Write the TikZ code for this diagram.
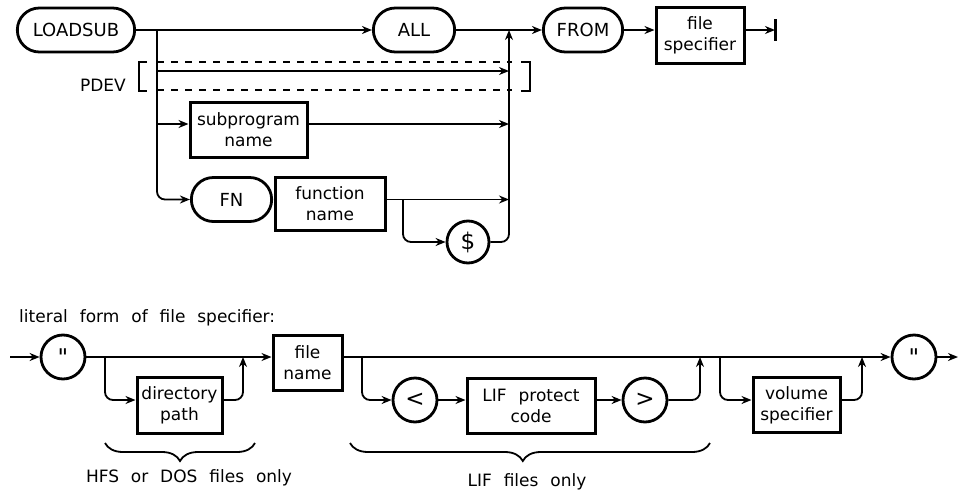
\documentclass[tikz,border=0pt]{standalone}
\usepackage{fontspec}
\setmainfont{DejaVu Sans}[WordSpace=2.2]
\newfontfamily\quotefont{DejaVu Sans}[Ligatures=TeXOff]
\usetikzlibrary{arrows.meta,shapes.misc,decorations.pathreplacing}

\begin{document}
\begin{tikzpicture}[x=1pt, y=-1pt, >={Stealth[length=10pt,width=8pt]}, line width=1.8pt,
  kw/.style={draw, rounded rectangle, line width=2.8pt, minimum height=44pt, font=\fontsize{18}{20}\selectfont},
  box/.style={draw, rectangle, line width=3pt, align=center, inner sep=2pt, font=\fontsize{17}{21}\selectfont},
  circ/.style={draw, circle, line width=2.8pt, minimum size=44pt, inner sep=0pt, font=\fontsize{23}{24}\selectfont},
  lbl/.style={font=\fontsize{17}{20}\selectfont},
  rnd/.style={rounded corners=8pt}]
\useasboundingbox (0,0) rectangle (961,498);
% LOADSUB statement
\node[kw, minimum width=124pt] (loadsub) at (76,30) {LOADSUB};
\node[kw, minimum width=88pt] (all) at (414,30) {ALL};
\node[kw, minimum width=86pt] (from) at (583,30) {FROM};
\node[box, minimum width=88pt, minimum height=56pt] (fspec) at (700,35) {file\\specifier};
\coordinate (stop) at (775,30);
\coordinate (sp) at (157,30);
\coordinate (jn) at (509,30);
\coordinate (pd1) at (157,71);
\coordinate (pd2) at (509,71);
\coordinate (s1) at (157,124);
\node[lbl, anchor=east] (pdev) at (130,85) {PDEV};
\node[box, minimum width=117pt, minimum height=55pt] (sub) at (248.5,130) {subprogram\\name};
\node[kw, minimum width=87pt] (fn) at (231.5,199.5) {FN};
\node[box, minimum width=110pt, minimum height=53pt] (fname) at (330,203.5) {function\\name};
\coordinate (br) at (403,199.5);
\node[circ, minimum size=42pt] (dollar) at (468,242) {\$};
\draw[->] (loadsub) -- (all);
\draw[->] (all) -- (from);
\draw[->] (from.east) -- (from.east -| fspec.west);
\draw[->] (from -| fspec.east) -- (stop);
\draw[line width=3pt] ([yshift=11pt]stop) -- ([yshift=-11pt]stop);
\draw[->, rnd] (sp) |- (fn);
\draw[->] (pd1) -- (pd2);
\draw[line width=1.3pt, dash pattern=on 7pt off 7pt] (157,62) -- (512,62) (157,90) -- (512,90);
\draw[line width=1.3pt] (147,62) -- (139,62) -- (139,91) -- (147,91);
\draw[line width=1.3pt] (521,62) -- (530,62) -- (530,91) -- (521,91);
\draw[->] (s1) -- (s1 -| sub.west);
\draw[->] (s1 -| sub.east) -- (s1 -| jn);
\draw[->] (fname.east |- fn) -- (fn -| jn);
\draw[->, rnd] (br) |- (dollar);
\draw[->, rnd] (dollar) -| (jn);
% literal form
\node[lbl, anchor=west] (lit) at (15,318) {literal form of file specifier:};
\coordinate (in) at (10,357);
\node[circ] (q1) at (63,357) {\quotefont "};
\coordinate (b1) at (105,357);
\node[box, minimum width=85pt, minimum height=56pt] (dir) at (179.5,405) {directory\\path};
\coordinate (m1) at (243,357);
\node[box, minimum width=69pt, minimum height=55pt] (fnm) at (307.5,362.5) {file\\name};
\coordinate (b2) at (362,357);
\node[circ] (lt) at (415,400) {<};
\node[box, minimum width=128pt, minimum height=55pt] (lif) at (531,405.5) {LIF protect\\code};
\node[circ] (gt) at (645,400) {>};
\coordinate (m2) at (700,357);
\coordinate (b3) at (720,357);
\node[box, minimum width=87pt, minimum height=55pt] (vol) at (796.5,405) {volume\\specifier};
\coordinate (m3) at (862,357);
\node[circ] (q2) at (914,357) {\quotefont "};
\coordinate (out) at (958,357);
\draw[->] (in) -- (q1);
\draw[->] (q1) -- (q1 -| fnm.west);
\draw[->, rnd] (b1) |- (lt -| dir.west);
\draw[->, rnd] (lt -| dir.east) -| (m1);
\draw[->] (fnm.east |- q1) -- (q2);
\draw[->, rnd] (b2) |- (lt);
\draw[->] (lt) -- (lt -| lif.west);
\draw[->] (lt -| lif.east) -- (gt);
\draw[->, rnd] (gt) -| (m2);
\draw[->, rnd] (b3) |- (lt -| vol.west);
\draw[->, rnd] (lt -| vol.east) -| (m3);
\draw[->] (q2) -- (out);
% braces
\draw[decorate, decoration={brace, mirror, amplitude=18pt}] (105,443) -- (255,443);
\node[lbl] (hfs) at (189,478) {HFS or DOS files only};
\draw[decorate, decoration={brace, mirror, amplitude=18pt, aspect=0.48}] (350,443) -- (710,443);
\node[lbl] (lifonly) at (527,482) {LIF files only};
\end{tikzpicture}
\end{document}
